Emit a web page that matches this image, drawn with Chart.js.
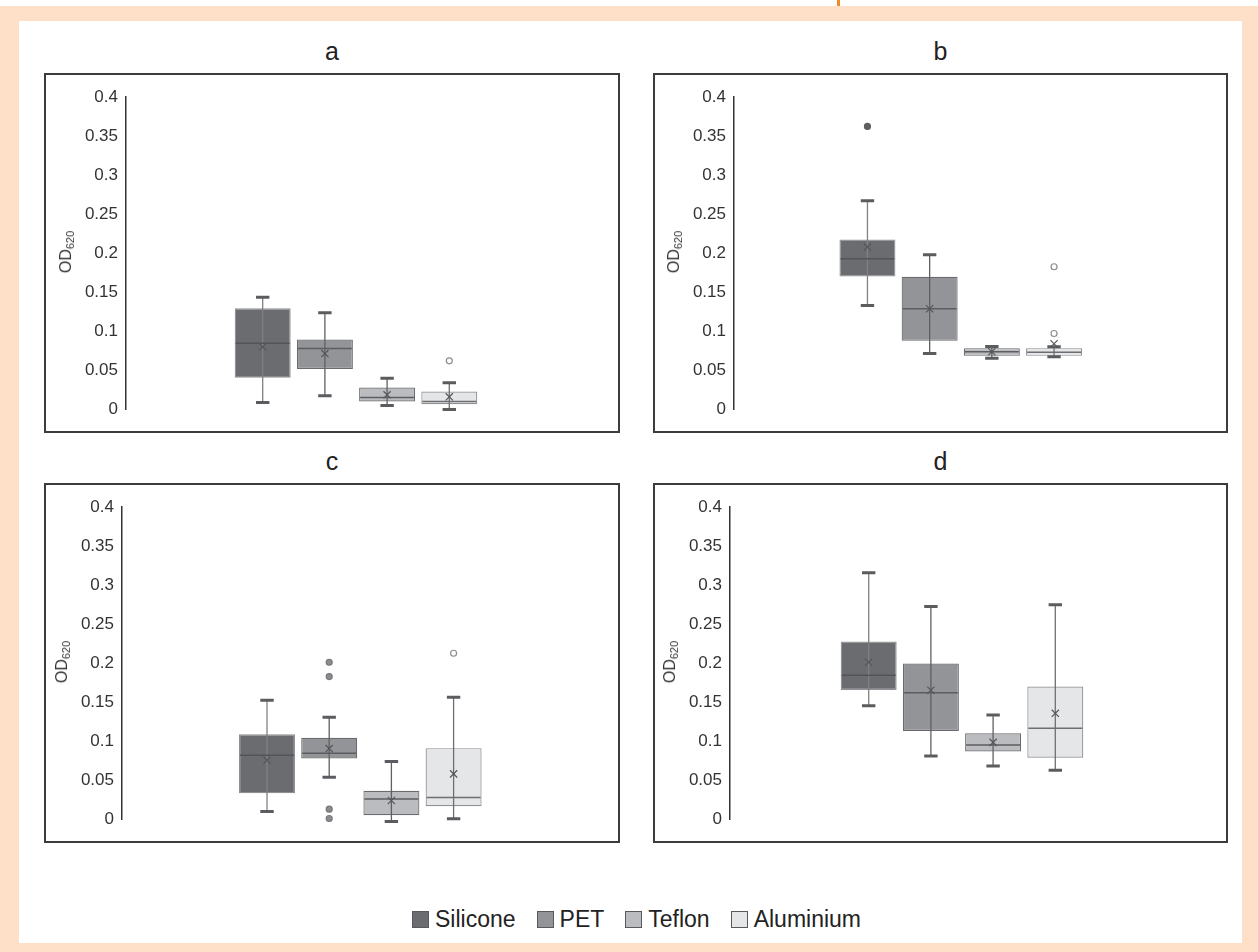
<!DOCTYPE html>
<html><head><meta charset="utf-8">
<script src="https://cdn.jsdelivr.net/npm/chart.js@4.4.1/dist/chart.umd.min.js"></script>
<style>
html,body{margin:0;padding:0;}
body{width:1258px;height:952px;position:relative;background:#fde0c7;overflow:hidden;font-family:"Liberation Sans",Arial,sans-serif;color:#222;}
#topstrip{position:absolute;left:0;top:0;width:1258px;height:6px;background:#fff;}
#otick{position:absolute;left:837px;top:0;width:3px;height:6px;background:#f28a2a;}
#sheet{position:absolute;left:19px;top:21px;width:1223px;height:922px;background:#fff;}
.ptitle{position:absolute;text-align:center;font-size:25px;line-height:25px;color:#222;}
canvas{position:absolute;}
.ylab{position:absolute;font-size:16px;line-height:16px;color:#333;white-space:nowrap;transform:translate(-50%,-50%) rotate(-90deg);}
.ylab sub{font-size:11px;vertical-align:-3px;line-height:0;}
#legend{position:absolute;top:908px;left:412px;display:flex;align-items:center;font-size:23px;line-height:23px;color:#222;gap:21px;}
.li{display:flex;align-items:center;}
.sw{width:17px;height:17px;box-sizing:border-box;border:1px solid #58595c;margin-right:6px;}
</style>
</head>
<body>
<div id="topstrip"></div><div id="otick"></div>
<div id="sheet"></div>
<div id="root"></div>
<div id="legend"></div>
<script>
// ---- data ----
const categories = ['Silicone', 'PET', 'Teflon', 'Aluminium'];
const panelNames = ['a', 'b', 'c', 'd'];
const yTickLabels = ['0', '0.05', '0.1', '0.15', '0.2', '0.25', '0.3', '0.35', '0.4'];
// one row per panel (a, b, c, d), one value per category
const whiskerLow = [
  [0.009, 0.0175, 0.005, 0.0],
  [0.1332, 0.0717, 0.0657, 0.0674],
  [0.0102, 0.0542, -0.0026, 0.0009],
  [0.1457, 0.0812, 0.0684, 0.0632]
];
const quartile1 = [
  [0.0405, 0.052, 0.0102, 0.0068],
  [0.1703, 0.0879, 0.0687, 0.0687],
  [0.0337, 0.078, 0.0055, 0.0171],
  [0.1658, 0.1132, 0.0872, 0.0791]
];
const medians = [
  [0.0849, 0.078, 0.0154, 0.0102],
  [0.193, 0.1289, 0.0739, 0.0734],
  [0.0823, 0.0849, 0.0264, 0.0281],
  [0.1846, 0.1624, 0.0953, 0.1167]
];
const quartile3 = [
  [0.1296, 0.0896, 0.0281, 0.023],
  [0.2177, 0.1699, 0.0785, 0.0785],
  [0.1092, 0.1045, 0.0367, 0.0913],
  [0.2278, 0.1996, 0.1103, 0.1701]
];
const whiskerHigh = [
  [0.1437, 0.1237, 0.040, 0.0341],
  [0.2672, 0.1981, 0.0807, 0.0803],
  [0.1527, 0.1309, 0.0742, 0.1565],
  [0.3158, 0.2726, 0.1338, 0.2748]
];
const means = [
  [0.080, 0.0716, 0.0188, 0.0162],
  [0.2079, 0.1289, 0.0739, 0.0841],
  [0.0759, 0.0908, 0.0243, 0.0584],
  [0.2013, 0.1654, 0.0987, 0.1359]
];
const outliers = [
  [[], [], [], [0.0623]],
  [[0.3624], [], [], [0.1827, 0.0973]],
  [[], [0.2013, 0.1829, 0.0132, 0.0013], [], [0.2128]],
  [[], [], [], []]
];

// ---- styles ----
const fills = ['#6b6c70', '#939497', '#bbbcbf', '#e5e6e7'];
const boxBorders = ['#8f9093', '#6a6b6e', '#6a6b6e', '#8e8f92'];
const medianColors = ['#535457', '#5c5d60', '#5c5d60', '#6d6e71'];
const whiskerColors = ['#808184', '#5f6063', '#5f6063', '#6e6f72'];
const capColor = '#5b5c5f';
const outlierFill = ['#5e5f62', '#8b8c8f', '#ffffff', '#ffffff'];
const outlierStroke = ['#5e5f62', '#77787b', '#8c8d90', '#8c8d90'];

// panel frames (layout only)
const frames = [
  {left: 44, top: 73, w: 576, h: 360, axis: 82, center: 312},
  {left: 653, top: 73, w: 575, h: 360, axis: 81, center: 307.75},
  {left: 44, top: 483, w: 576, h: 360, axis: 78, center: 316.3},
  {left: 653, top: 483, w: 575, h: 360, axis: 77, center: 309}
];
const slot = 62.2;

const framePlugin = {
  id: 'frame',
  beforeDraw(chart) {
    const c = chart.ctx;
    c.save();
    c.strokeStyle = '#3c3c3c';
    c.lineWidth = 2;
    c.strokeRect(1, 1, chart.width - 2, chart.height - 2);
    c.restore();
  }
};

const boxPlugin = {
  id: 'boxParts',
  afterDatasetsDraw(chart, args, opts) {
    const p = opts.panel;
    const ys = chart.scales.y;
    const c = chart.ctx;
    c.save();
    chart.data.datasets.forEach((ds, i) => {
      const bar = chart.getDatasetMeta(i).data[0];
      const x = bar.x, w = bar.width;
      const yl = ys.getPixelForValue(whiskerLow[p][i]);
      const yh = ys.getPixelForValue(whiskerHigh[p][i]);
      const ym = ys.getPixelForValue(medians[p][i]);
      const ymean = ys.getPixelForValue(means[p][i]);
      // whisker line
      c.strokeStyle = whiskerColors[i];
      c.lineWidth = 1.3;
      c.beginPath(); c.moveTo(x, yh); c.lineTo(x, yl); c.stroke();
      // caps
      c.strokeStyle = capColor;
      c.lineWidth = 3;
      c.beginPath();
      c.moveTo(x - 6.7, yh); c.lineTo(x + 6.7, yh);
      c.moveTo(x - 6.7, yl); c.lineTo(x + 6.7, yl);
      c.stroke();
      // median
      c.strokeStyle = medianColors[i];
      c.lineWidth = 1.5;
      c.beginPath(); c.moveTo(x - w / 2 + 1, ym); c.lineTo(x + w / 2 - 1, ym); c.stroke();
      // mean marker
      c.strokeStyle = '#55565a';
      c.lineWidth = 1.2;
      const s = 3.6;
      c.beginPath();
      c.moveTo(x - s, ymean - s); c.lineTo(x + s, ymean + s);
      c.moveTo(x + s, ymean - s); c.lineTo(x - s, ymean + s);
      c.stroke();
      // outliers
      outliers[p][i].forEach(v => {
        const yo = ys.getPixelForValue(v);
        c.beginPath();
        c.arc(x, yo, 3, 0, Math.PI * 2);
        c.fillStyle = outlierFill[i];
        c.fill();
        c.strokeStyle = outlierStroke[i];
        c.lineWidth = 1.2;
        c.stroke();
      });
    });
    c.restore();
  }
};

const root = document.getElementById('root');
panelNames.forEach((name, p) => {
  const f = frames[p];
  const W = 2 * (f.center - f.axis);
  const padRight = f.w - f.axis - W;
  const cp = 4 * slot / W;

  const t = document.createElement('div');
  t.className = 'ptitle';
  t.textContent = name;
  t.style.left = f.left + 'px';
  t.style.width = f.w + 'px';
  t.style.top = (f.top - 34) + 'px';
  root.appendChild(t);

  const cv = document.createElement('canvas');
  cv.width = f.w; cv.height = f.h;
  cv.style.left = f.left + 'px'; cv.style.top = f.top + 'px';
  cv.style.width = f.w + 'px'; cv.style.height = f.h + 'px';
  root.appendChild(cv);

  const yl = document.createElement('div');
  yl.className = 'ylab';
  yl.innerHTML = 'OD<sub>620</sub>';
  yl.style.left = (f.left + f.axis - 60) + 'px';
  yl.style.top = (f.top + 179) + 'px';
  root.appendChild(yl);

  const datasets = categories.map((cat, i) => ({
    label: cat,
    data: [[quartile1[p][i], quartile3[p][i]]],
    backgroundColor: fills[i],
    borderColor: boxBorders[i],
    borderWidth: 1.2,
    borderSkipped: false,
    barPercentage: 0.9,
    categoryPercentage: cp,
    clip: false
  }));

  new Chart(cv.getContext('2d'), {
    type: 'bar',
    data: {labels: [''], datasets},
    options: {
      responsive: false,
      animation: false,
      devicePixelRatio: 1,
      layout: {padding: {left: 0, right: padRight, top: 24, bottom: 23.5}},
      plugins: {
        legend: {display: false},
        tooltip: {enabled: false},
        title: {display: false},
        boxParts: {panel: p}
      },
      scales: {
        x: {display: false},
        y: {
          min: 0, max: 0.4,
          ticks: {
            stepSize: 0.05,
            padding: 8,
            color: '#333',
            font: {family: '"Liberation Sans", Arial, sans-serif', size: 17},
            callback: (v) => yTickLabels[Math.round(v / 0.05)]
          },
          grid: {display: false, drawTicks: false},
          border: {display: true, color: '#333', width: 1.5},
          afterFit: (s) => { s.width = f.axis; }
        }
      }
    },
    plugins: [framePlugin, boxPlugin]
  });
});

// legend
const lg = document.getElementById('legend');
categories.forEach((cat, i) => {
  const it = document.createElement('div');
  it.className = 'li';
  const sw = document.createElement('span');
  sw.className = 'sw';
  sw.style.background = fills[i];
  const tx = document.createElement('span');
  tx.textContent = cat;
  it.appendChild(sw); it.appendChild(tx);
  lg.appendChild(it);
});
</script>
</body></html>
